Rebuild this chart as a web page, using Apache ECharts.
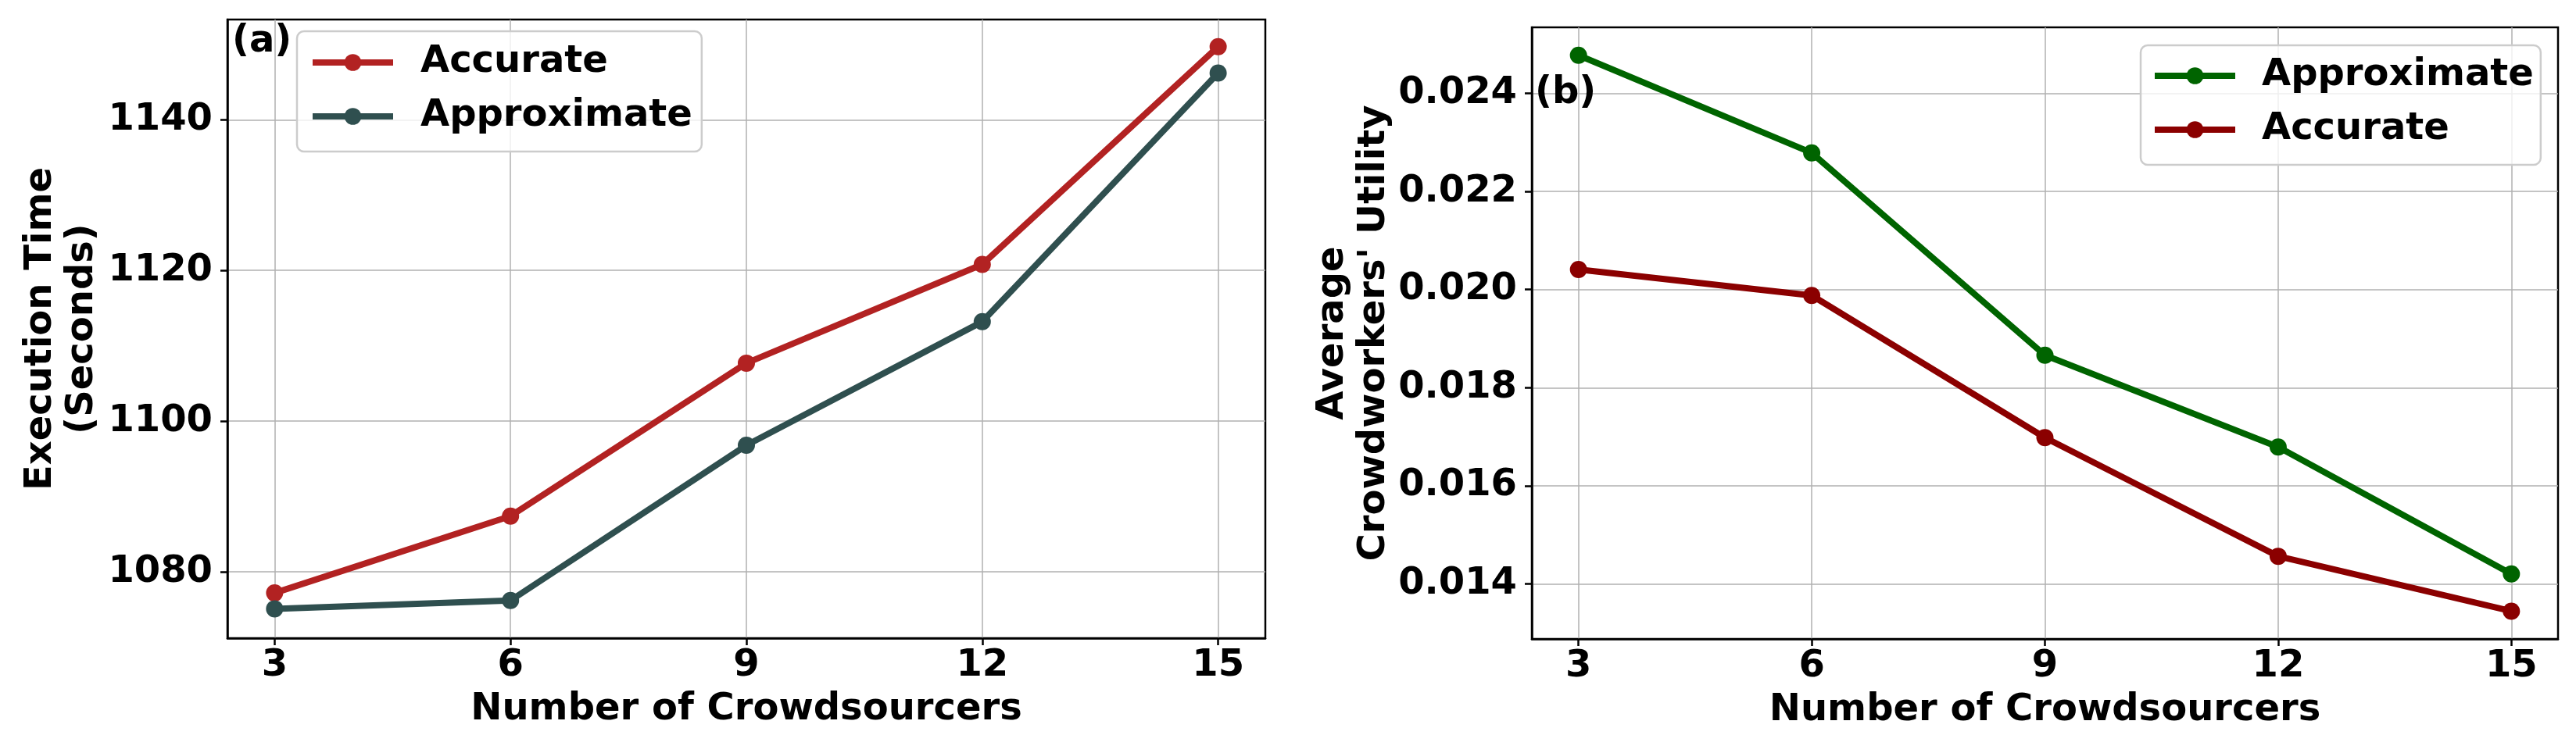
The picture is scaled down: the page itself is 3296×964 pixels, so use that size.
<!DOCTYPE html>
<html>
<head>
<meta charset="utf-8">
<script src="https://cdn.jsdelivr.net/npm/echarts@6/dist/echarts.min.js"></script>
<style>html,body{margin:0;padding:0;background:#fff}#c{width:3296px;height:964px}</style>
</head>
<body>
<div id="c"></div>
<script>
// ---- data ----
const crowdsourcers = [3, 6, 9, 12, 15];
const execAccurate = [1077.2, 1087.4, 1107.7, 1120.8, 1149.7];
const execApproximate = [1075.1, 1076.2, 1096.8, 1113.2, 1146.2];
const utilApproximate = [0.02478, 0.02279, 0.01866, 0.01679, 0.01420];
const utilAccurate = [0.02041, 0.01988, 0.01698, 0.01456, 0.01344];
const xTicks = [3, 6, 9, 12, 15];
const execTicks = [1080, 1100, 1120, 1140];
const utilTicks = [0.014, 0.016, 0.018, 0.020, 0.022, 0.024];

const FONT = 'DejaVu Sans';
const txt = (size, extra) => Object.assign({fontFamily: FONT, fontWeight: 'bold', fontSize: size, color: '#000'}, extra || {});
const pairs = (xs, ys) => xs.map((x, i) => [x, ys[i]]);

const chart = echarts.init(document.getElementById('c'), null, {renderer: 'canvas', width: 3296, height: 964});

function xAxisCfg(gi) {
  return {
    type: 'value', gridIndex: gi, min: 2.4, max: 15.6,
    name: 'Number of Crowdsourcers', nameLocation: 'middle', nameGap: 65,
    nameTextStyle: txt(48, {lineHeight: 53}),
    axisLine: {show: true, onZero: false, lineStyle: {color: '#000', width: 2.5}},
    axisTick: {show: true, length: 9, lineStyle: {color: '#000', width: 2.5}, customValues: xTicks},
    axisLabel: Object.assign(txt(48, {lineHeight: 48}), {customValues: xTicks, margin: 12}),
    splitLine: {show: true, lineStyle: {color: '#b0b0b0', width: 1.5}}
  };
}
function yAxisCfg(gi, min, max, ticks, name, gap, fmt) {
  return {
    type: 'value', gridIndex: gi, min: min, max: max,
    name: name, nameLocation: 'middle', nameGap: gap,
    nameTextStyle: txt(48, {lineHeight: 53}),
    axisLine: {show: true, onZero: false, lineStyle: {color: '#000', width: 2.5}},
    axisTick: {show: true, length: 9, lineStyle: {color: '#000', width: 2.5}, customValues: ticks},
    axisLabel: Object.assign(txt(48, {lineHeight: 48}), {customValues: ticks, margin: 19, formatter: fmt}),
    splitLine: {show: true, lineStyle: {color: '#b0b0b0', width: 1.5}}
  };
}
function lineSeries(name, xi, yi, data, color) {
  return {
    name: name, type: 'line', xAxisIndex: xi, yAxisIndex: yi,
    data: data, symbol: 'circle', symbolSize: 22, showSymbol: true,
    itemStyle: {color: color}, lineStyle: {color: color, width: 8},
    emphasis: {disabled: true}, animation: false, z: 3
  };
}
function legendCfg(left, top, pad, textPadLeft, items) {
  return {
    left: left, top: top, orient: 'vertical', padding: pad,
    itemWidth: 103, itemHeight: 27, itemGap: 21,
    backgroundColor: 'rgba(255,255,255,0.8)', borderColor: '#cccccc', borderWidth: 2.5, borderRadius: 9,
    lineStyle: {width: 8},
    textStyle: txt(48, {lineHeight: 48, padding: [0, 0, 0, textPadLeft]}),
    selectedMode: false,
    data: items.map(it => ({name: it[0], itemStyle: {color: it[1]}, lineStyle: {color: it[1], width: 8}}))
  };
}

const option = {
  backgroundColor: '#fff',
  animation: false,
  grid: [
    {left: 291, top: 25, width: 1328, height: 792, show: true, borderColor: '#000', borderWidth: 2.5, backgroundColor: 'transparent'},
    {left: 1960, top: 35, width: 1313, height: 783, show: true, borderColor: '#000', borderWidth: 2.5, backgroundColor: 'transparent'}
  ],
  xAxis: [xAxisCfg(0), xAxisCfg(1)],
  yAxis: [
    yAxisCfg(0, 1071.2, 1153.3, execTicks, 'Execution Time\n(Seconds)', 159, v => String(Math.round(v))),
    yAxisCfg(1, 0.012873, 0.025350, utilTicks, "Average\nCrowdworkers' Utility", 175, v => v.toFixed(3))
  ],
  legend: [
    legendCfg(380, 40, [16, 12, 21, 16], 30, [['Accurate', '#b22222'], ['Approximate', '#2f4f4f']]),
    legendCfg(2739, 58, [15, 9, 21, 14], 29, [['Approximate', '#006400'], ['Accurate', '#8b0000']])
  ],
  series: [
    lineSeries('Accurate', 0, 0, pairs(crowdsourcers, execAccurate), '#b22222'),
    lineSeries('Approximate', 0, 0, pairs(crowdsourcers, execApproximate), '#2f4f4f'),
    lineSeries('Approximate', 1, 1, pairs(crowdsourcers, utilApproximate), '#006400'),
    lineSeries('Accurate', 1, 1, pairs(crowdsourcers, utilAccurate), '#8b0000')
  ],
  graphic: [
    {type: 'text', left: 297, top: 30, z: 10, style: {text: '(a)', font: 'bold 48px "DejaVu Sans"', fill: '#000'}},
    {type: 'text', left: 1964, top: 96, z: 10, style: {text: '(b)', font: 'bold 48px "DejaVu Sans"', fill: '#000'}}
  ]
};
chart.setOption(option);
</script>
</body>
</html>
